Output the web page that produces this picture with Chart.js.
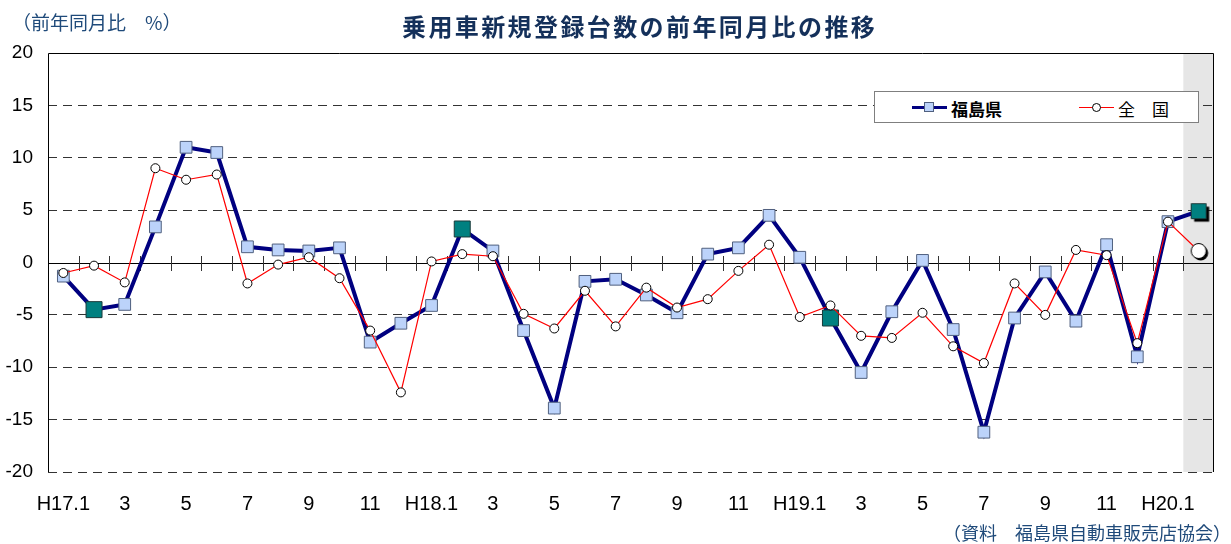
<!DOCTYPE html>
<html lang="ja">
<head>
<meta charset="utf-8">
<script src="https://cdn.jsdelivr.net/npm/chart.js@4"></script>
<style>
    body { margin: 0; background: #fff; }
    #wrap { position: relative; width: 1231px; height: 544px; }
    #chart { position: absolute; left: 0; top: 0; }
    .txt { position: absolute; white-space: nowrap; font-family: "Noto Sans CJK JP", sans-serif; }
    #title { left: 402px; top: 8px; font-size: 24px; font-weight: bold; letter-spacing: 2.4px; color: #14305a; }
    #ycap { left: 12px; top: 8px; font-size: 19px; color: #1f4a7a; }
    #source { right: 0px; top: 519px; font-size: 18px; color: #1f4a7a; }
    #legend { position: absolute; left: 874px; top: 91px; width: 325px; height: 32px; box-sizing: border-box;
              border: 1px solid #7f7f7f; background: #fff; }
    #legend .ln { position: absolute; }
    #legend .lbl { position: absolute; top: 4px; font-size: 17px; color: #000; font-family: "Noto Sans CJK JP", sans-serif; }
</style>
</head>
<body>
<div id="wrap">
    <canvas id="chart" width="1231" height="544"></canvas>
    <div class="txt" id="title">乗用車新規登録台数の前年同月比の推移</div>
    <div class="txt" id="ycap">（前年同月比　%）</div>
    <div class="txt" id="source">（資料　福島県自動車販売店協会）</div>
    <div id="legend">
        <div class="ln" style="left:37px; top:14px; width:35px; height:3px; background:#000080;"></div>
        <div class="ln" style="left:49px; top:10px; width:10px; height:10px; background:#bcd3fa; border:1px solid #50607f; box-sizing:border-box;"></div>
        <div class="lbl" style="left:76px; font-weight:bold;">福島県</div>
        <div class="ln" style="left:204px; top:15px; width:35px; height:1px; background:#ff0000;"></div>
        <div class="ln" style="left:217px; top:11px; width:9px; height:9px; background:#fff; border:1px solid #000; border-radius:50%; box-sizing:border-box;"></div>
        <div class="lbl" style="left:243px;">全　国</div>
    </div>
</div>

<script>
// 月（H17.1 〜 H20.2）
const categories = [
    'H17.1', '2', '3', '4', '5', '6', '7', '8', '9', '10', '11', '12',
    'H18.1', '2', '3', '4', '5', '6', '7', '8', '9', '10', '11', '12',
    'H19.1', '2', '3', '4', '5', '6', '7', '8', '9', '10', '11', '12',
    'H20.1', '2'
];

// 福島県 前年同月比（%）
const fukushima = [
    -1.3, -4.5, -4.0, 3.4, 11.0, 10.5, 1.5, 1.2, 1.1, 1.4, -7.6, -5.8,
    -4.1, 3.2, 1.1, -6.5, -13.9, -1.8, -1.6, -3.1, -4.8, 0.8, 1.4, 4.5,
    0.5, -5.3, -10.5, -4.7, 0.2, -6.4, -16.2, -5.3, -0.9, -5.6, 1.7, -9.0,
    3.9, 4.9
];

// 全国 前年同月比（%）
const national = [
    -1.0, -0.3, -1.9, 9.0, 7.9, 8.4, -2.0, -0.2, 0.5, -1.5, -6.5, -12.4,
    0.1, 0.8, 0.6, -4.9, -6.3, -2.7, -6.1, -2.4, -4.3, -3.5, -0.8, 1.7,
    -5.2, -4.1, -7.0, -7.2, -4.8, -8.0, -9.6, -2.0, -5.0, 1.2, 0.7, -7.7,
    3.9, 1.1
];

// 各年2月を強調
const highlightIdx = [1, 13, 25, 37];
const lastIdx = categories.length - 1;

const numFont = '"Liberation Sans", Arial, sans-serif';

// 影付きマーカー（最新月）
function markerImage(shape, side, fill, stroke, shadow) {
    const pad = shadow + 2;
    const size = side + pad * 2;
    const c = document.createElement('canvas');
    c.width = size;
    c.height = size;
    const g = c.getContext('2d');
    const path = (d) => {
        g.beginPath();
        if (shape === 'rect') g.rect(pad + d + 0.5, pad + d + 0.5, side - 1, side - 1);
        else g.arc(pad + d + side / 2, pad + d + side / 2, side / 2 - 0.5, 0, Math.PI * 2);
    };
    path(shadow);
    g.fillStyle = '#000';
    g.fill();
    path(0);
    g.fillStyle = fill;
    g.fill();
    g.lineWidth = 1;
    g.strokeStyle = stroke;
    g.stroke();
    return c;
}

const lastSquare = markerImage('rect', 16, '#008080', '#1a3a3a', 3);
const lastCircle = markerImage('circle', 16, '#ffffff', '#000000', 2);

// 背景の網掛け・枠・ゼロ線の目盛り
const framePlugin = {
    id: 'frame',
    beforeDraw(chart) {
        const { ctx, chartArea: a, scales: { x } } = chart;
        const x0 = x.getPixelForValue(lastIdx - 0.5);
        ctx.save();
        ctx.fillStyle = '#e6e6e6';
        ctx.fillRect(x0, a.top, a.right - x0, a.bottom - a.top);
        ctx.restore();
    },
    beforeDatasetsDraw(chart) {
        const { ctx, chartArea: a, scales: { x, y } } = chart;
        ctx.save();
        ctx.strokeStyle = '#000';
        ctx.lineWidth = 1;
        ctx.beginPath();
        ctx.moveTo(a.left + 0.5, a.bottom);
        ctx.lineTo(a.left + 0.5, a.top + 0.5);
        ctx.lineTo(a.right - 0.5, a.top + 0.5);
        ctx.lineTo(a.right - 0.5, a.bottom);
        ctx.stroke();

        const y0 = Math.round(y.getPixelForValue(0)) + 0.5;
        ctx.beginPath();
        ctx.moveTo(a.left, y0);
        ctx.lineTo(a.right, y0);
        ctx.stroke();

        ctx.strokeStyle = '#333';
        ctx.beginPath();
        for (let i = 0; i < lastIdx; i++) {
            const px = Math.round(x.getPixelForValue(i + 0.5)) + 0.5;
            ctx.moveTo(px, y0 - 7.5);
            ctx.lineTo(px, y0 + 7.5);
        }
        ctx.stroke();
        ctx.restore();
    }
};

const ctx = document.getElementById('chart').getContext('2d');

new Chart(ctx, {
    type: 'line',
    data: {
        labels: categories,
        datasets: [
            {
                label: '全　国',
                data: national,
                borderColor: '#ff0000',
                borderWidth: 1.2,
                fill: false,
                tension: 0,
                pointStyle: c => c.dataIndex === lastIdx ? lastCircle : 'circle',
                pointRadius: 4.5,
                pointBackgroundColor: '#ffffff',
                pointBorderColor: '#000000',
                pointBorderWidth: 1
            },
            {
                label: '福島県',
                data: fukushima,
                borderColor: '#000080',
                borderWidth: 4,
                fill: false,
                tension: 0,
                pointStyle: c => c.dataIndex === lastIdx ? lastSquare : 'rect',
                pointRadius: c => highlightIdx.includes(c.dataIndex) ? 11.3 : 8.3,
                pointBackgroundColor: c => highlightIdx.includes(c.dataIndex) ? '#008080' : '#bcd3fa',
                pointBorderColor: c => highlightIdx.includes(c.dataIndex) ? '#1a3a3a' : '#50607f',
                pointBorderWidth: 1
            }
        ]
    },
    options: {
        responsive: false,
        animation: false,
        events: [],
        layout: { padding: { top: 53, right: 17, left: 0, bottom: 0 } },
        plugins: {
            legend: { display: false },
            tooltip: { enabled: false }
        },
        scales: {
            x: {
                offset: true,
                grid: { display: false, drawTicks: false },
                border: { display: false },
                ticks: {
                    autoSkip: false,
                    maxRotation: 0,
                    padding: 20,
                    color: '#000',
                    font: { family: numFont, size: 20 },
                    callback: (v, i) => i % 2 === 0 ? categories[i] : ''
                },
                afterFit: s => { s.height = 72; }
            },
            y: {
                min: -20,
                max: 20,
                ticks: {
                    stepSize: 5,
                    padding: 15,
                    color: '#000',
                    font: { family: numFont, size: 19 }
                },
                grid: {
                    drawTicks: false,
                    lineWidth: 1,
                    borderDash: [9, 6],
                    color: c => (c.tick && (c.tick.value === 0 || c.tick.value === 20)) ? 'rgba(0,0,0,0)' : '#333'
                },
                border: { display: false, dash: [9, 6] },
                afterFit: s => { s.width = 48; }
            }
        }
    },
    plugins: [framePlugin]
});
</script>
</body>
</html>
